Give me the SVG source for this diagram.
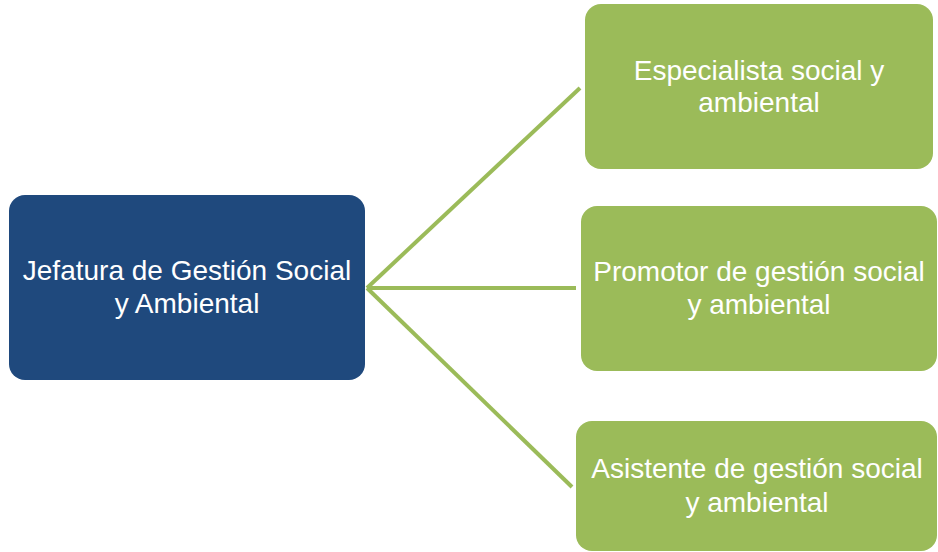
<svg xmlns="http://www.w3.org/2000/svg" width="938" height="552" viewBox="0 0 938 552">
<style>
.lead{fill:#1F497D;}
.sub{fill:#9BBB59;}
.t{font-family:"Liberation Sans",Arial,sans-serif;font-size:28px;fill:#FFFFFF;text-anchor:middle;}
.c{stroke:#9BBB59;stroke-width:4;fill:none;}
</style>
<rect width="938" height="552" fill="#FFFFFF"/>
<g id="connectors">
<line class="c" x1="367" y1="288" x2="580" y2="88"/>
<line class="c" x1="367" y1="288" x2="576" y2="288"/>
<line class="c" x1="367" y1="288" x2="572" y2="487"/>
</g>
<g id="node-jefatura">
<rect class="lead" x="9" y="195" width="356" height="185" rx="16"/>
<text class="t" x="187" y="280">Jefatura de Gestión Social</text>
<text class="t" x="187" y="313">y Ambiental</text>
</g>
<g id="node-especialista">
<rect class="sub" x="585" y="4" width="348" height="165" rx="16"/>
<text class="t" x="759" y="80">Especialista social y</text>
<text class="t" x="759" y="112">ambiental</text>
</g>
<g id="node-promotor">
<rect class="sub" x="581" y="206" width="356" height="165" rx="16"/>
<text class="t" x="759" y="281">Promotor de gestión social</text>
<text class="t" x="759" y="314">y ambiental</text>
</g>
<g id="node-asistente">
<rect class="sub" x="576" y="421" width="361" height="130" rx="16"/>
<text class="t" x="757" y="478">Asistente de gestión social</text>
<text class="t" x="757" y="512">y ambiental</text>
</g>
</svg>
